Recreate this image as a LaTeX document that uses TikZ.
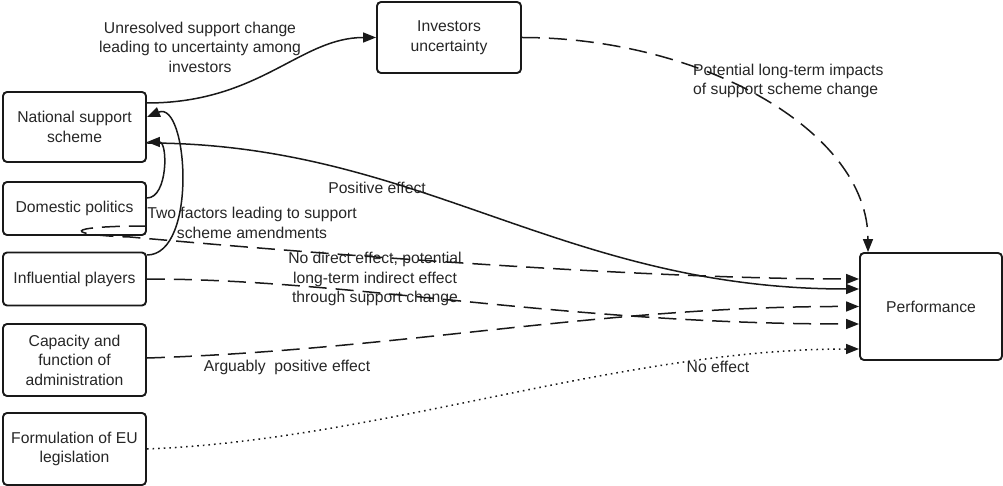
\documentclass[tikz,border=0pt]{standalone}
\usepackage{fontspec}
\setmainfont{Liberation Sans}
\usepackage{tikz}
\usetikzlibrary{arrows.meta}

\tikzset{
  box/.style={draw=black!90, line width=1.9pt, rounded corners=4pt, align=center,
    text=black!85, font=\fontsize{15.7}{19.5}\selectfont},
  lbl/.style={align=center, text=black!85, font=\fontsize{15.7}{19.5}\selectfont, inner sep=0pt},
  link/.style={line width=1.5pt, black!90, -{Triangle[length=13pt,width=10pt]}},
  dsh/.style={link, dash pattern=on 18pt off 9pt},
  dts/.style={link, dash pattern=on 1.6pt off 4pt}
}

\begin{document}
\begin{tikzpicture}[x=1pt,y=-1pt]
\useasboundingbox (0,0) rectangle (1003,486);

\node [box, minimum width=143pt, minimum height=70pt] (nss) at (74.5,127) {National support\\scheme};
\node [box, minimum width=143pt, minimum height=53pt] (dp) at (74.5,208.5) {Domestic politics};
\node [box, minimum width=143pt, minimum height=53pt] (ip) at (74.5,279) {Influential players};
\node [box, minimum width=143pt, minimum height=72pt] (caf) at (74.5,360) {Capacity and\\function of\\administration};
\node [box, minimum width=143pt, minimum height=72pt] (feu) at (74.5,449) {Formulation of EU\\legislation};
\node [box, minimum width=144pt, minimum height=71pt] (inv) at (449,37.5) {Investors\\uncertainty};
\node [box, minimum width=142pt, minimum height=107pt] (perf) at (931,306.5) {Performance};

% labels
\node [lbl] (lunres) at (200,47) {Unresolved support change\\leading to uncertainty among\\investors};
\node [lbl, anchor=west, align=left] (lpot) at (693,81) {Potential long-term impacts\\of support scheme change};
\node [lbl] (lpos) at (377,188) {Positive effect};
\node [lbl] (ltwo) at (252,223) {Two factors leading to support\\scheme amendments};
\node [lbl] (lnod) at (375,279) {No direct effect, potential\\long-term indirect effect\\through support change};
\node [lbl] (larg) at (287,367) {Arguably\ \ positive effect};
\node [lbl] (lnoe) at (718,367) {No effect};

% to investors and from investors
\draw [link] ([yshift=24pt]nss.east) .. controls (260,103) and (300,37.5) .. (inv.west);
\draw [dsh] (inv.east) .. controls (700,37.5) and (868,130) .. ([xshift=-63pt]perf.north);

% support scheme amendments
\draw [link] ([yshift=10.5pt]dp.east) .. controls (168,198) and (168,142) .. ([yshift=-15pt]nss.east);
\draw [link] ([yshift=24pt]ip.east) .. controls (198,255) and (188,100) .. ([yshift=10pt]nss.east);

% effects on performance
\draw [link] ([yshift=-16pt]nss.east) .. controls (420,143) and (560,289) .. ([yshift=17.5pt]perf.west);
\draw [dsh] ([yshift=-17.5pt]dp.east) .. controls (60,226) and (65,235) .. (130,237)
  .. controls (330,255) and (650,279) .. ([yshift=27.5pt]perf.west);
\draw [dsh] (ip.east) .. controls (350,279) and (560,324) .. ([yshift=-17.5pt]perf.west);
\draw [dsh] ([yshift=2pt]caf.east) .. controls (400,350) and (600,306) .. (perf.west);
\draw [dts] (feu.east) .. controls (380,440) and (620,349) .. ([yshift=-42.5pt]perf.west);

\end{tikzpicture}
\end{document}
